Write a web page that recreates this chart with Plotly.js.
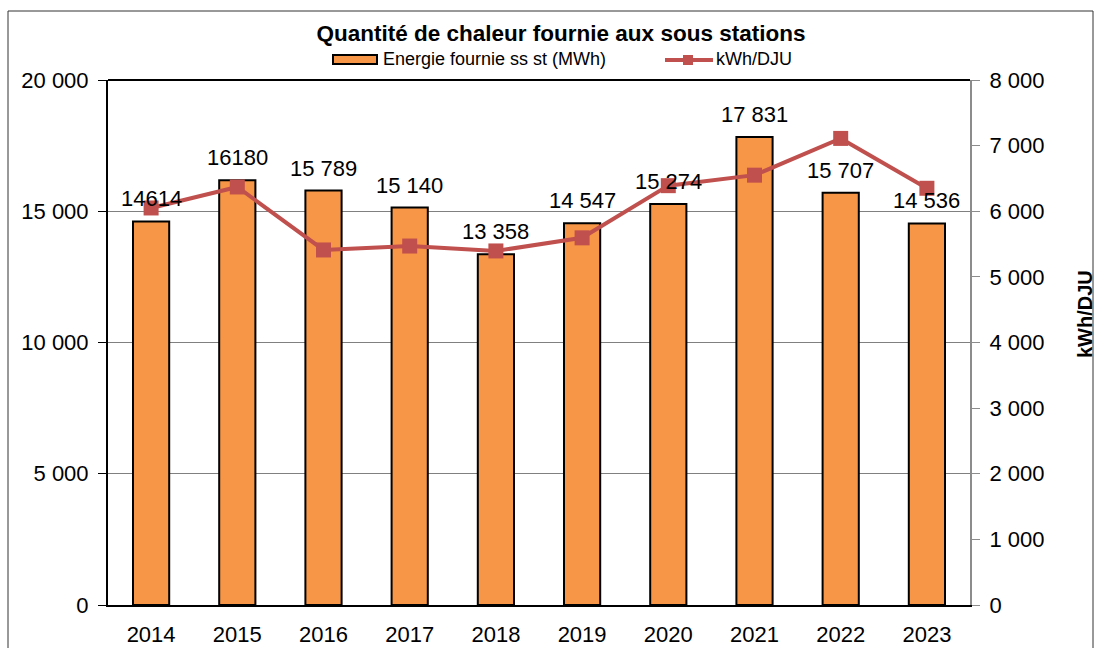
<!DOCTYPE html>
<html>
<head>
<meta charset="utf-8">
<script src="https://cdn.plot.ly/plotly-3.0.1.min.js"></script>
<style>html,body{margin:0;padding:0;background:#fff;}#chart{width:1099px;height:648px;}</style>
</head>
<body>
<div id="chart"></div>
<script>
const years = [2014, 2015, 2016, 2017, 2018, 2019, 2020, 2021, 2022, 2023];
const yearLabels = ['2014','2015','2016','2017','2018','2019','2020','2021','2022','2023'];
const energie = [14614, 16180, 15789, 15140, 13358, 14547, 15274, 17831, 15707, 14536];
const energieLabels = ['14614','16180','15 789','15 140','13 358','14 547','15 274','17 831','15 707','14 536'];
const kwhDju = [6050, 6370, 5410, 5470, 5395, 5595, 6390, 6550, 7110, 6350];
const leftTicks = [0, 5000, 10000, 15000, 20000];
const leftTickText = ['0','5 000','10 000','15 000','20 000'];
const rightTicks = [0, 1000, 2000, 3000, 4000, 5000, 6000, 7000, 8000];
const rightTickText = ['0','1 000','2 000','3 000','4 000','5 000','6 000','7 000','8 000'];
const seriesNames = ['Energie fournie ss st (MWh)', 'kWh/DJU'];

const FONT = '"Liberation Sans", Arial, sans-serif';
const BAR_COLOR = '#F79646';
const LINE_COLOR = '#C0504D';

// plot area in pixels (for legend placement)
const PL = 108, PR = 970, PT = 80, PB = 605;
const px = v => (v - PL) / (PR - PL);
const py = v => (PB - v) / (PB - PT);

const traces = [
  {
    type: 'bar', name: seriesNames[0], x: years, y: energie,
    width: 0.42,
    marker: {color: BAR_COLOR, line: {color: '#000000', width: 2}}
  },
  {
    type: 'scatter', mode: 'lines+markers', name: seriesNames[1], x: years, y: kwhDju,
    yaxis: 'y2',
    line: {color: LINE_COLOR, width: 4},
    marker: {symbol: 'square', size: 15, color: LINE_COLOR}
  }
];

const annotations = years.map((yr, i) => ({
  x: yr, y: energie[i], xref: 'x', yref: 'y', text: energieLabels[i],
  showarrow: false, yanchor: 'bottom', yshift: 8,
  font: {family: FONT, size: 22, color: '#000'}
}));

// manual legend texts
annotations.push({
  xref: 'paper', yref: 'paper', x: px(381), y: py(59), xanchor: 'left', yanchor: 'middle',
  text: seriesNames[0], showarrow: false, font: {family: FONT, size: 18, color: '#000'}
});
annotations.push({
  xref: 'paper', yref: 'paper', x: px(714), y: py(59), xanchor: 'left', yanchor: 'middle',
  text: seriesNames[1], showarrow: false, font: {family: FONT, size: 18, color: '#000'}
});
// right axis title
annotations.push({
  xref: 'paper', yref: 'paper', x: px(1085), y: py(314), xanchor: 'center', yanchor: 'middle',
  text: '<b>kWh/DJU</b>', textangle: -90, showarrow: false,
  font: {family: FONT, size: 20, color: '#000'}
});

const layout = {
  width: 1099, height: 648,
  margin: {l: 108, r: 129, t: 80, b: 43},
  paper_bgcolor: '#fff', plot_bgcolor: '#fff',
  font: {family: FONT, size: 22, color: '#000'},
  title: {
    text: '<b>Quantité de chaleur fournie aux sous stations</b>',
    font: {family: FONT, size: 22.5, color: '#000'},
    xref: 'container', x: 561/1099, xanchor: 'center', y: 1 - 33/648, yanchor: 'middle'
  },
  showlegend: false,
  xaxis: {
    type: 'linear', range: [2013.5, 2023.5], tickvals: years, ticktext: yearLabels,
    showline: true, linecolor: '#000', linewidth: 2,
    ticks: '', ticklabelstandoff: 9, showgrid: false, zeroline: false,
    tickfont: {family: FONT, size: 22, color: '#000'}
  },
  yaxis: {
    range: [0, 20000], tickvals: leftTicks, ticktext: leftTickText,
    showline: true, linecolor: '#000', linewidth: 2,
    ticks: 'outside', ticklen: 8, tickcolor: '#000', tickwidth: 1,
    ticklabelstandoff: 5,
    showgrid: true, gridcolor: '#808080', gridwidth: 1, zeroline: false,
    tickfont: {family: FONT, size: 22, color: '#000'}
  },
  yaxis2: {
    overlaying: 'y', side: 'right', range: [0, 8000], tickvals: rightTicks, ticktext: rightTickText,
    showline: true, linecolor: '#8c8c8c', linewidth: 2,
    ticks: 'outside', ticklen: 8, tickcolor: '#8c8c8c', tickwidth: 1,
    ticklabelstandoff: 5, showgrid: false, zeroline: false,
    tickfont: {family: FONT, size: 22, color: '#000'}
  },
  shapes: [
    {type: 'line', xref: 'paper', yref: 'paper', x0: 0, x1: 1, y0: 1, y1: 1, line: {color: '#000', width: 2}},
    {type: 'rect', xref: 'paper', yref: 'paper', x0: px(8), x1: px(1093), y0: py(700), y1: py(11), line: {color: '#333', width: 1}, layer: 'below'},
    // legend: bar swatch
    {type: 'rect', xref: 'paper', yref: 'paper', x0: px(333), x1: px(377), y0: py(64), y1: py(55),
     fillcolor: BAR_COLOR, line: {color: '#000', width: 2}},
    // legend: line + marker
    {type: 'line', xref: 'paper', yref: 'paper', x0: px(665), x1: px(713), y0: py(60), y1: py(60),
     line: {color: LINE_COLOR, width: 4}},
    {type: 'rect', xref: 'paper', yref: 'paper', x0: px(683), x1: px(693), y0: py(65), y1: py(55),
     fillcolor: LINE_COLOR, line: {color: LINE_COLOR, width: 0}}
  ],
  annotations: annotations
};

Plotly.newPlot('chart', traces, layout, {displayModeBar: false, staticPlot: true});
</script>
</body>
</html>
